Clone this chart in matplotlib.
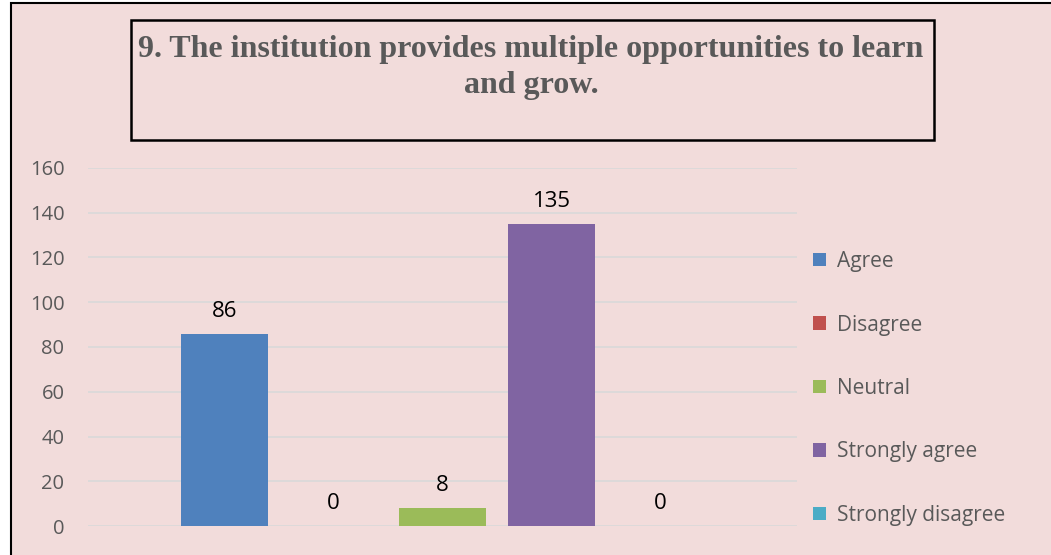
import matplotlib.pyplot as plt
from matplotlib.patches import Rectangle, Patch

# data
categories = ["Agree", "Disagree", "Neutral", "Strongly agree", "Strongly disagree"]
counts = [86, 0, 8, 135, 0]
colors = ["#4F81BD", "#C0504D", "#9BBB59", "#8064A2", "#4BACC6"]
title = "9. The institution provides multiple opportunities to learn\nand grow."
yticks = [0, 20, 40, 60, 80, 100, 120, 140, 160]

W, H = 1051, 555
bg = "#F2DCDB"
grey = "#595959"

fig = plt.figure(figsize=(W / 100, H / 100), dpi=100)
fig.patch.set_facecolor("white")

# chart area background + outer frame
fig.patches.append(Rectangle((11 / W, -0.1), 1.2, 1.1 - 3 / H, transform=fig.transFigure,
                             facecolor=bg, edgecolor="black", linewidth=1.5, zorder=-5))

ax = fig.add_axes([88 / W, 29 / H, (797 - 88) / W, (526 - 168) / H])
ax.set_facecolor("none")

xs = list(range(len(categories)))
bars = ax.bar(xs, counts, width=0.8, color=colors, zorder=3)
for x, v in zip(xs, counts):
    ax.annotate(str(v), (x, v), xytext=(0, 12), textcoords="offset points",
                ha="center", va="baseline", fontsize=16, family="Open Sans", color="black")

ax.set_xlim(-1.25, 5.25)
ax.set_ylim(0, 160)
ax.set_yticks(yticks)
ax.set_yticklabels([str(t) for t in yticks], fontsize=14.5, family="Open Sans", color=grey)
ax.tick_params(axis="y", length=0, pad=17)
ax.set_xticks([])
ax.grid(axis="y", color="#D9D9D9", linewidth=1.2, zorder=0)
for s in ax.spines.values():
    s.set_visible(False)

# title box
fig.patches.append(Rectangle((131 / W, 1 - 140 / H), (934 - 131) / W, (140 - 20) / H,
                             transform=fig.transFigure, facecolor="none",
                             edgecolor="black", linewidth=1.8, zorder=5))
fig.text(531 / W, 1 - 35 / H, title, ha="center", va="top", fontsize=23,
         family="Liberation Serif", weight="bold", color=grey, linespacing=1.32)

# legend
handles = [Patch(facecolor=c, edgecolor="none") for c in colors]
leg = fig.legend(handles, categories, loc="upper left", bbox_to_anchor=(813 / W, 1 - 251 / H),
                 frameon=False, handlelength=0.62, handleheight=0.62, handletextpad=0.55,
                 labelspacing=2.04, borderpad=0, borderaxespad=0,
                 prop={"family": "Open Sans", "size": 15})
for t in leg.get_texts():
    t.set_color(grey)

fig.savefig("out.png", dpi=100, facecolor=fig.get_facecolor())
